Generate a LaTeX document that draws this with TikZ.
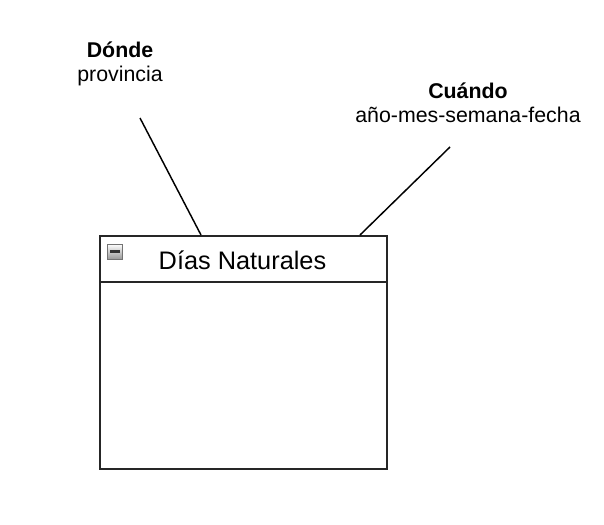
\documentclass[tikz,border=0pt]{standalone}
\usepackage{fontspec}
\setmainfont{Liberation Sans}
\begin{document}
\begin{tikzpicture}[x=0.75pt,y=-0.75pt,
  lbl/.style={anchor=base,inner sep=0pt,font=\fontsize{16}{19}\selectfont},
  conn/.style={draw=black,line width=1.1pt},
  boxline/.style={draw=black!85,line width=1.3pt}]
\useasboundingbox (0,0) rectangle (604,525);
% labels
\node[lbl] (donde) at (120,57) {\textbf{Dónde}};
\node[lbl] (prov) at (120,81) {provincia};
\node[lbl] (cuando) at (468,98) {\textbf{Cuándo}};
\node[lbl] (fecha) at (468,122) {año-mes-semana-fecha};
% box
\node[boxline,draw,minimum width=287*0.75pt,minimum height=233*0.75pt,inner sep=0pt,anchor=north west] (box) at (99,235) {};
\draw[boxline] (99,282) coordinate (hl) -- (386,282) coordinate (hr);
\node[lbl,font=\fontsize{19}{23}\selectfont] (title) at (242.5,269) {Días Naturales};
% icon
\node[draw=black!55,line width=0.8pt,top color=white,bottom color=black!40,minimum size=15*0.75pt,inner sep=0pt,anchor=north west] (icon) at (107,243.5) {};
\draw[line width=1.6pt,black!80] ([xshift=-3.6pt]icon.center) -- ([xshift=3.6pt]icon.center);
% connectors
\coordinate (p1) at (140,118);
\coordinate (q1) at (201,235);
\coordinate (p2) at (450,147);
\coordinate (q2) at (360,235);
\draw[conn] (p1) -- (q1);
\draw[conn] (p2) -- (q2);
\end{tikzpicture}
\end{document}
